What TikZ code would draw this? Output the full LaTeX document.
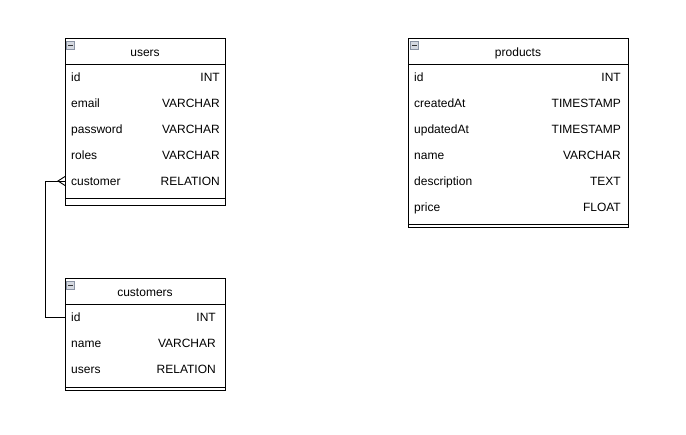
\documentclass[tikz,border=0pt]{standalone}
\usepackage{fontspec}
\setmainfont{Liberation Sans}
\usepackage{tikz}
\usetikzlibrary{positioning}
\usepackage[dvipsnames]{xcolor}
\definecolor{iconfill}{HTML}{D4D8E0}
\definecolor{iconline}{HTML}{8A93A3}
\newcommand{\erfont}{\fontsize{12}{14}\selectfont}

\tikzset{
 tablebox/.style = {draw, line width = 0.9pt},
 tabletitle/.style = {inner sep = 0pt, text height = 10pt, text depth = 0pt, font = \erfont},
 fieldname/.style = {anchor = west, inner xsep = 6pt, inner ysep = 0pt, text height = 10pt, text depth = 0pt, font = \erfont},
 fieldtype/.style = {anchor = east, inner sep = 0pt, text height = 10pt, text depth = 0pt, font = \erfont},
 collapse/.style = {draw = iconline, fill = iconfill, line width = 0.6pt, minimum size = 7.5pt, inner sep = 0pt,
   path picture = {\draw[black!80, line width = 1pt] ([xshift=-2.3pt]path picture bounding box.center) -- ([xshift=2.3pt]path picture bounding box.center);}}
}

\begin{document}
\begin{tikzpicture}[x = 1pt, y = -1pt]
\useasboundingbox (0, 0) rectangle (686, 435);

% users
\draw[tablebox] (65, 38) rectangle (225, 205);
\draw[tablebox] (65, 64) -- (225, 64) (65, 198) -- (225, 198);
\node[collapse] (users-icon) at (70.5, 45.5) {};
\node[tabletitle] (users) at (145, 51.5) {users};
\foreach \y/\n/\t in {77/id/INT, 103/email/VARCHAR, 129/password/VARCHAR, 155/roles/VARCHAR, 181/customer/RELATION}{
 \node[fieldname] (users-\n) at (65, \y) {\n};
 \node[fieldtype] (users-\n-type) at (220, \y) {\t};
}

% customers
\draw[tablebox] (65, 278) rectangle (225, 390.5);
\draw[tablebox] (65, 304) -- (225, 304) (65, 387) -- (225, 387);
\node[collapse] (customers-icon) at (70.5, 285.5) {};
\node[tabletitle] (customers) at (145, 291.5) {customers};
\foreach \y/\n/\t in {317/id/INT, 343/name/VARCHAR, 369/users/RELATION}{
 \node[fieldname] (customers-\n) at (65, \y) {\n};
 \node[fieldtype] (customers-\n-type) at (216, \y) {\t};
}

% products
\draw[tablebox] (408, 38) rectangle (628, 227.5);
\draw[tablebox] (408, 64) -- (628, 64) (408, 224) -- (628, 224);
\node[collapse] (products-icon) at (414.5, 45.5) {};
\node[tabletitle] (products) at (518, 51.5) {products};
\foreach \y/\n/\t in {77/id/INT, 103/createdAt/TIMESTAMP, 129/updatedAt/TIMESTAMP, 155/name/VARCHAR, 181/description/TEXT, 207/price/FLOAT}{
 \node[fieldname] (products-\n) at (408, \y) {\n};
 \node[fieldtype] (products-\n-type) at (621, \y) {\t};
}

% relation customers -> users (many)
\draw[line width = 0.9pt] (customers-id.west) -- ++(-20, 0) |- (users-customer.west);
\coordinate (crow) at ([xshift=-7pt]users-customer.west);
\draw[line width = 0.9pt] ([yshift=4.5pt]users-customer.west) -- (crow) -- ([yshift=-4.5pt]users-customer.west);

\end{tikzpicture}
\end{document}
